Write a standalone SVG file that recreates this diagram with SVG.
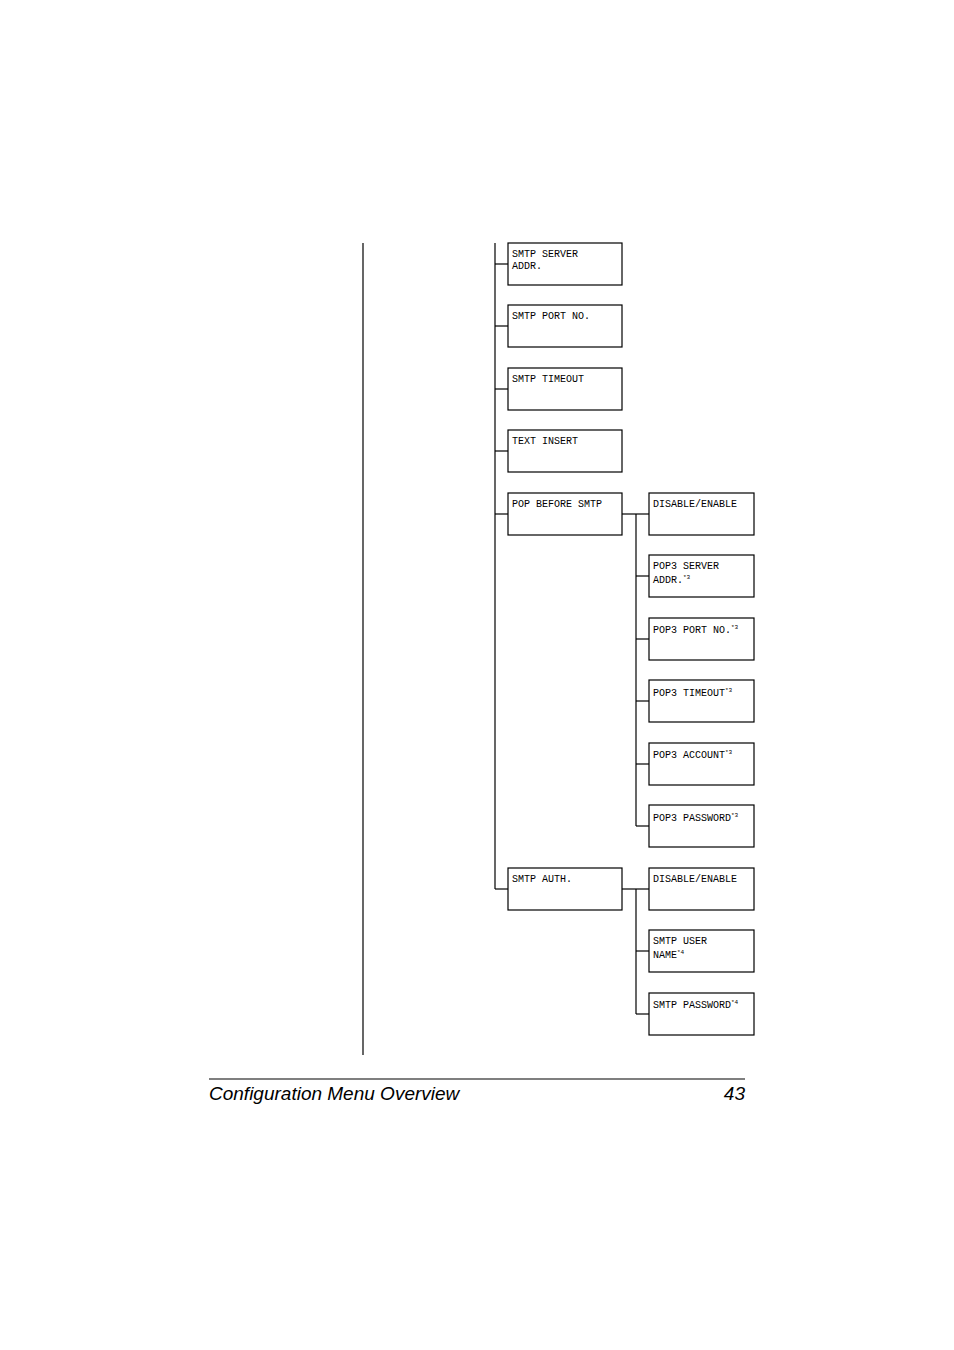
<svg xmlns="http://www.w3.org/2000/svg" width="954" height="1350" viewBox="0 0 954 1350">
<style>
rect{fill:#fff;stroke:#000;stroke-width:1.2}
.c line{stroke:#000;stroke-width:1.2}
.t{font-family:"Liberation Mono",monospace;font-size:10px;fill:#000}
.s{font-size:6px}
.f{font-family:"Liberation Sans",Arial,sans-serif;font-style:italic;font-size:19px;fill:#000}
</style>
<rect x="0" y="0" width="954" height="1350" style="stroke:none"/>
<g class="c">
<line x1="363" y1="243" x2="363" y2="1055"/>
<line x1="495" y1="243" x2="495" y2="889"/>
<line x1="495" y1="264" x2="508" y2="264"/>
<line x1="495" y1="326" x2="508" y2="326"/>
<line x1="495" y1="389" x2="508" y2="389"/>
<line x1="495" y1="451" x2="508" y2="451"/>
<line x1="495" y1="514" x2="508" y2="514"/>
<line x1="495" y1="889" x2="508" y2="889"/>
<line x1="622" y1="514" x2="649" y2="514"/>
<line x1="636" y1="514" x2="636" y2="826"/>
<line x1="636" y1="576" x2="649" y2="576"/>
<line x1="636" y1="639" x2="649" y2="639"/>
<line x1="636" y1="701" x2="649" y2="701"/>
<line x1="636" y1="764" x2="649" y2="764"/>
<line x1="636" y1="826" x2="649" y2="826"/>
<line x1="622" y1="889" x2="649" y2="889"/>
<line x1="636" y1="889" x2="636" y2="1014"/>
<line x1="636" y1="951" x2="649" y2="951"/>
<line x1="636" y1="1014" x2="649" y2="1014"/>
<line x1="209" y1="1079" x2="745" y2="1079"/>
</g>
<g id="n1"><rect x="508" y="243" width="114" height="42"/><text class="t" x="512" y="257">SMTP SERVER</text><text class="t" x="512" y="269">ADDR.</text></g>
<g id="n2"><rect x="508" y="305" width="114" height="42"/><text class="t" x="512" y="319">SMTP PORT NO.</text></g>
<g id="n3"><rect x="508" y="368" width="114" height="42"/><text class="t" x="512" y="382">SMTP TIMEOUT</text></g>
<g id="n4"><rect x="508" y="430" width="114" height="42"/><text class="t" x="512" y="444">TEXT INSERT</text></g>
<g id="n5"><rect x="508" y="493" width="114" height="42"/><text class="t" x="512" y="507">POP BEFORE SMTP</text></g>
<g id="n6"><rect x="508" y="868" width="114" height="42"/><text class="t" x="512" y="882">SMTP AUTH.</text></g>
<g id="p1"><rect x="649" y="493" width="105" height="42"/><text class="t" x="653" y="507">DISABLE/ENABLE</text></g>
<g id="p2"><rect x="649" y="555" width="105" height="42"/><text class="t" x="653" y="569">POP3 SERVER</text><text class="t" x="653" y="583">ADDR.<tspan class="s" dy="-4">*3</tspan></text></g>
<g id="p3"><rect x="649" y="618" width="105" height="42"/><text class="t" x="653" y="633">POP3 PORT NO.<tspan class="s" dy="-4">*3</tspan></text></g>
<g id="p4"><rect x="649" y="680" width="105" height="42"/><text class="t" x="653" y="696">POP3 TIMEOUT<tspan class="s" dy="-4">*3</tspan></text></g>
<g id="p5"><rect x="649" y="743" width="105" height="42"/><text class="t" x="653" y="758">POP3 ACCOUNT<tspan class="s" dy="-4">*3</tspan></text></g>
<g id="p6"><rect x="649" y="805" width="105" height="42"/><text class="t" x="653" y="821">POP3 PASSWORD<tspan class="s" dy="-4">*3</tspan></text></g>
<g id="a1"><rect x="649" y="868" width="105" height="42"/><text class="t" x="653" y="882">DISABLE/ENABLE</text></g>
<g id="a2"><rect x="649" y="930" width="105" height="42"/><text class="t" x="653" y="944">SMTP USER</text><text class="t" x="653" y="958">NAME<tspan class="s" dy="-4">*4</tspan></text></g>
<g id="a3"><rect x="649" y="993" width="105" height="42"/><text class="t" x="653" y="1008">SMTP PASSWORD<tspan class="s" dy="-4">*4</tspan></text></g>
<text class="f" x="209" y="1100">Configuration Menu Overview</text>
<text class="f" x="745" y="1100" text-anchor="end">43</text>
</svg>
